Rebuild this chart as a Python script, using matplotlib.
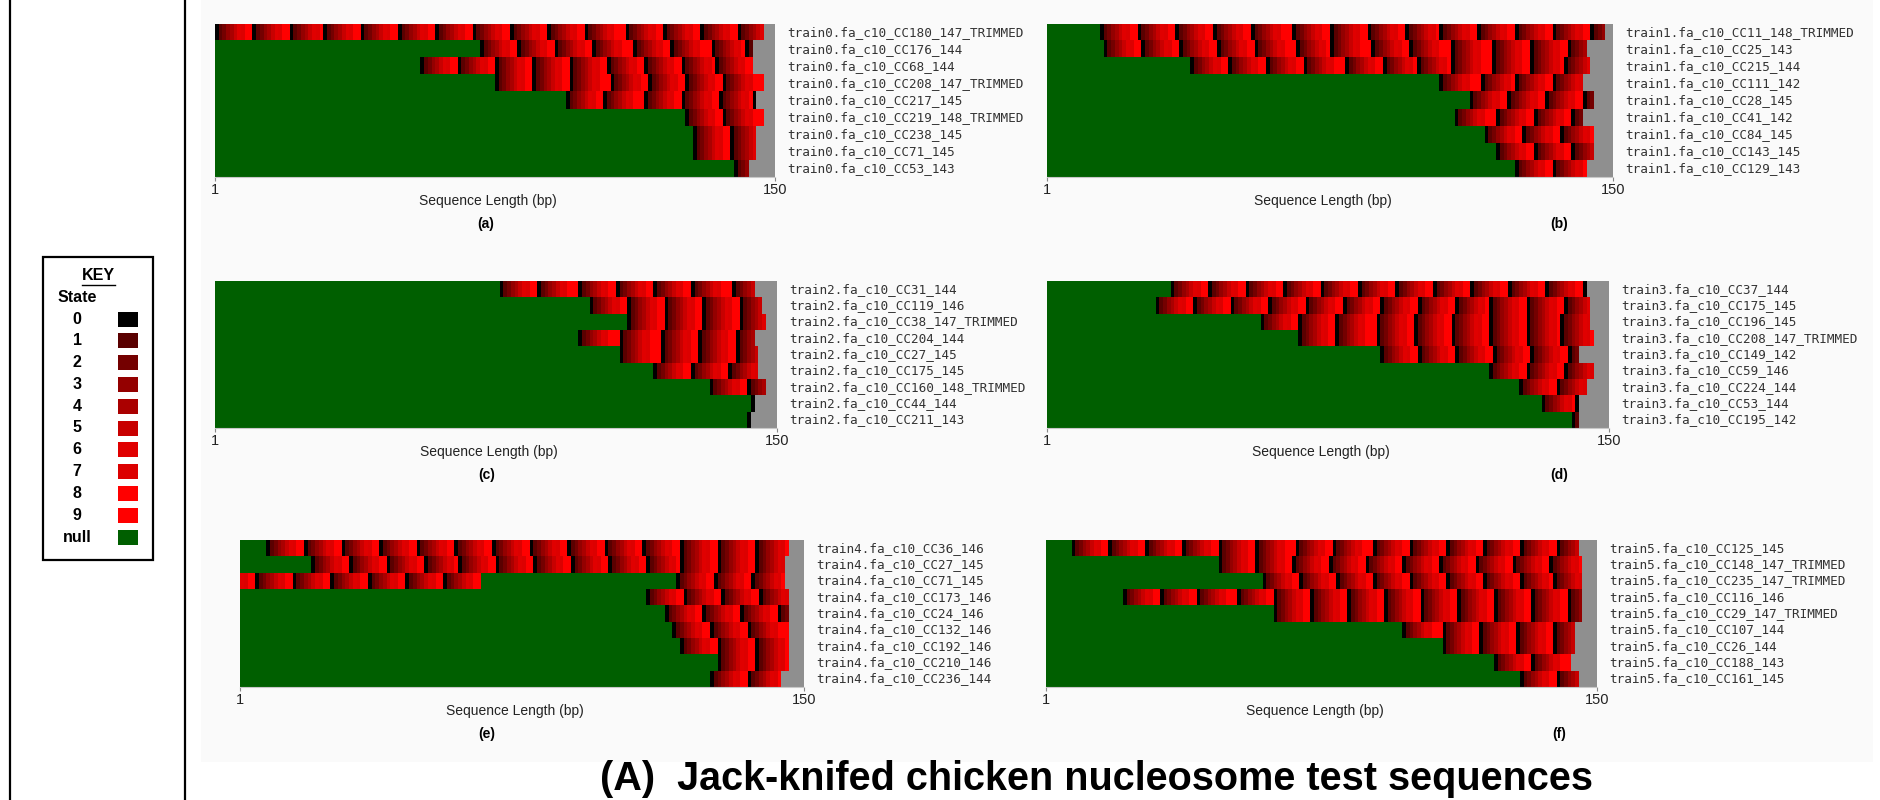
import numpy as np
import matplotlib
matplotlib.use("Agg")
import matplotlib.pyplot as plt
from matplotlib.colors import ListedColormap, BoundaryNorm
from matplotlib.patches import Rectangle

# colores de los estados 0..9, null y fuera de secuencia
state_colors = ['#000000', '#5a0000', '#740000', '#940000', '#aa0000',
                '#c80000', '#e00000', '#dc0000', '#ff0000', '#ff0000']
null_color = '#005f00'
pad_color = '#8f8f8f'
key_labels = ['0', '1', '2', '3', '4', '5', '6', '7', '8', '9', 'null']

# panel (a) train0
names_a = ['CC180_147_TRIMMED', 'CC176_144', 'CC68_144', 'CC208_147_TRIMMED', 'CC217_145',
           'CC219_148_TRIMMED', 'CC238_145', 'CC71_145', 'CC53_143']
lens_a = [147, 144, 144, 147, 145, 147, 145, 145, 143]
starts_a = [[0, 10, 20, 29, 39, 49, 59, 69, 79, 89, 99, 110, 120, 130, 140],
            [71, 81, 91, 101, 112, 122, 133, 142],
            [55, 65, 75, 85, 95, 105, 115, 125, 134],
            [75, 85, 95, 106, 116, 126, 136],
            [94, 104, 115, 125, 135, 144],
            [126, 136],
            [128, 138],
            [128, 138],
            [139]]

# panel (b) train1
names_b = ['CC11_148_TRIMMED', 'CC25_143', 'CC215_144', 'CC111_142', 'CC28_145',
           'CC41_142', 'CC84_145', 'CC143_145', 'CC129_143']
lens_b = [148, 143, 144, 142, 145, 142, 145, 145, 143]
starts_b = [[14, 24, 34, 44, 54, 65, 75, 85, 95, 104, 114, 124, 134, 144],
            [15, 25, 35, 45, 55, 66, 75, 86, 96, 107, 118, 128, 138],
            [38, 48, 58, 68, 79, 89, 98, 107, 118, 128, 137],
            [104, 115, 124, 134],
            [112, 122, 132, 142],
            [108, 119, 129, 139],
            [116, 126, 136],
            [119, 129, 139],
            [124, 134]]

# panel (c) train2
names_c = ['CC31_144', 'CC119_146', 'CC38_147_TRIMMED', 'CC204_144', 'CC27_145',
           'CC175_145', 'CC160_148_TRIMMED', 'CC44_144', 'CC211_143']
lens_c = [144, 146, 147, 144, 145, 145, 147, 144, 143]
starts_c = [[76, 86, 97, 107, 117, 127, 138],
            [100, 110, 120, 130, 140],
            [110, 120, 130, 140],
            [97, 108, 119, 129, 139],
            [108, 119, 129, 139],
            [117, 127, 137],
            [132, 142],
            [143],
            [142]]

# panel (d) train3
names_d = ['CC37_144', 'CC175_145', 'CC196_145', 'CC208_147_TRIMMED', 'CC149_142',
           'CC59_146', 'CC224_144', 'CC53_144', 'CC195_142']
lens_d = [144, 145, 145, 146, 142, 146, 144, 142, 142]
starts_d = [[33, 43, 53, 63, 73, 83, 93, 103, 113, 123, 133, 143],
            [29, 39, 49, 59, 69, 79, 89, 99, 109, 118, 128, 138],
            [57, 67, 77, 88, 98, 108, 118, 128, 137],
            [67, 77, 88, 98, 108, 118, 128, 137],
            [89, 99, 109, 119, 129, 139],
            [118, 128, 138],
            [126, 136],
            [132, 141],
            [140]]

# panel (e) train4
names_e = ['CC36_146', 'CC27_145', 'CC71_145', 'CC173_146', 'CC24_146',
           'CC132_146', 'CC192_146', 'CC210_146', 'CC236_144']
lens_e = [146, 145, 145, 146, 146, 146, 146, 146, 144]
starts_e = [[7, 17, 27, 37, 47, 57, 67, 77, 87, 97, 107, 117, 127, 137],
            [19, 29, 39, 49, 58, 68, 78, 88, 98, 108, 117, 127, 137],
            [-6, 4, 14, 24, 34, 44, 54, 116, 126, 136],
            [108, 118, 128, 138],
            [113, 123, 133, 143],
            [115, 125, 135],
            [117, 127, 137],
            [127, 137],
            [125, 135]]

# panel (f) train5
names_f = ['CC125_145', 'CC148_147_TRIMMED', 'CC235_147_TRIMMED', 'CC116_146', 'CC29_147_TRIMMED',
           'CC107_144', 'CC26_144', 'CC188_143', 'CC161_145']
lens_f = [145, 146, 146, 146, 146, 144, 144, 143, 145]
starts_f = [[7, 17, 27, 37, 47, 57, 68, 78, 89, 99, 109, 119, 129, 139],
            [47, 57, 67, 77, 87, 97, 107, 117, 127, 137],
            [59, 69, 79, 89, 99, 109, 119, 129, 138],
            [21, 31, 41, 52, 62, 72, 82, 92, 102, 112, 122, 132, 142],
            [62, 72, 82, 92, 102, 112, 122, 132, 142],
            [97, 108, 118, 128, 138],
            [108, 118, 128, 138],
            [122, 132],
            [129, 139]]

# tramos null en medio de una secuencia: (panel, fila, desde, hasta)
null_gaps = [('e', 2, 64, 116)]

panels = {
    'a': ('train0', names_a, lens_a, starts_a),
    'b': ('train1', names_b, lens_b, starts_b),
    'c': ('train2', names_c, lens_c, starts_c),
    'd': ('train3', names_d, lens_d, starts_d),
    'e': ('train4', names_e, lens_e, starts_e),
    'f': ('train5', names_f, lens_f, starts_f),
}

SEQ = 150
W, H = 1880, 800

# posición en pixeles: x0, x1, y0, y1, x de la etiqueta "(x)"
layout = {
    'a': (215, 775, 24, 177, 486),
    'b': (1047, 1613, 24, 177, 1559),
    'c': (215, 777, 281, 428, 487),
    'd': (1047, 1609, 281, 428, 1559),
    'e': (240, 804, 540, 687, 487),
    'f': (1046, 1597, 540, 687, 1559),
}


def build_matrix(key, lens, starts):
    mat = np.full((len(lens), SEQ), 10)
    for r, (L, st) in enumerate(zip(lens, starts)):
        bounds = list(st) + [L]
        for i in range(len(st)):
            for col in range(max(bounds[i], 0), min(bounds[i + 1], L)):
                mat[r, col] = min(col - bounds[i], 9)
        mat[r, L:] = 11
    for p, r, a, b in null_gaps:
        if p == key:
            mat[r, a:b] = 10
    return mat


cmap = ListedColormap(state_colors + [null_color, pad_color])
norm = BoundaryNorm(np.arange(-0.5, 12.5, 1), cmap.N)

fig = plt.figure(figsize=(W / 100, H / 100), dpi=100)
bg = fig.add_axes([0, 0, 1, 1])
bg.set_xlim(0, W)
bg.set_ylim(H, 0)
bg.axis('off')

# fondo y marco
bg.add_patch(Rectangle((201, 0), 1672, 762, color='#fafafa', lw=0))
bg.plot([10, 10], [0, H], color='black', lw=1.6)
bg.plot([185, 185], [0, H], color='black', lw=1.6)

# leyenda
bg.add_patch(Rectangle((43, 257), 110, 303, facecolor='white', edgecolor='black', lw=1.6))
bg.text(98, 276, 'KEY', ha='center', va='center', fontsize=11.5, fontweight='bold',
        family='Liberation Sans')
bg.plot([82, 115], [285, 285], color='black', lw=1)
bg.text(77, 298, 'State', ha='center', va='center', fontsize=11.5, fontweight='bold',
        family='Liberation Sans')
key_y = np.linspace(319, 537, len(key_labels))
for lab, yy, col in zip(key_labels, key_y, state_colors + [null_color]):
    bg.text(77, yy, lab, ha='center', va='center', fontsize=11.5, fontweight='bold',
            family='Liberation Sans')
    bg.add_patch(Rectangle((118, yy - 7.5), 20, 15, color=col, lw=0))

for key, (prefix, names, lens, starts) in panels.items():
    x0, x1, y0, y1, lab_x = layout[key]
    ax = fig.add_axes([x0 / W, 1 - y1 / H, (x1 - x0) / W, (y1 - y0) / H])
    mat = build_matrix(key, lens, starts)
    ax.imshow(mat, cmap=cmap, norm=norm, aspect='auto', interpolation='nearest',
              extent=[0, SEQ, len(lens), 0])
    ax.set_xlim(0, SEQ)
    ax.set_ylim(len(lens), 0)
    for s in ['top', 'right', 'left']:
        ax.spines[s].set_visible(False)
    ax.spines['bottom'].set_color('#c8c8c8')
    ax.set_yticks([])
    ax.set_xticks([0, SEQ])
    ax.set_xticklabels(['1', '150'], family='Liberation Sans', fontsize=10.5, color='#222222')
    ax.tick_params(axis='x', length=3, pad=1, color='#888888')
    bg.text((x0 + x1) / 2 - 7, y1 + 24, 'Sequence Length (bp)', ha='center', va='center',
            fontsize=10, family='Liberation Sans', color='#222222')
    for r, nm in enumerate(names):
        bg.text(x1 + 12, y0 + (r + 0.5) * (y1 - y0) / len(names),
                f'{prefix}.fa_c10_{nm}', ha='left', va='center', fontsize=9.1,
                family='DejaVu Sans Mono', color='#333333')
    bg.text(lab_x, y1 + 47, f'({key})', ha='center', va='center', fontsize=10,
            fontweight='bold', family='Liberation Sans')

bg.text(1097, 779, '(A)  Jack-knifed chicken nucleosome test sequences', ha='center',
        va='center', fontsize=28.5, fontweight='bold', family='Liberation Sans')

fig.savefig('out.png', dpi=100)
